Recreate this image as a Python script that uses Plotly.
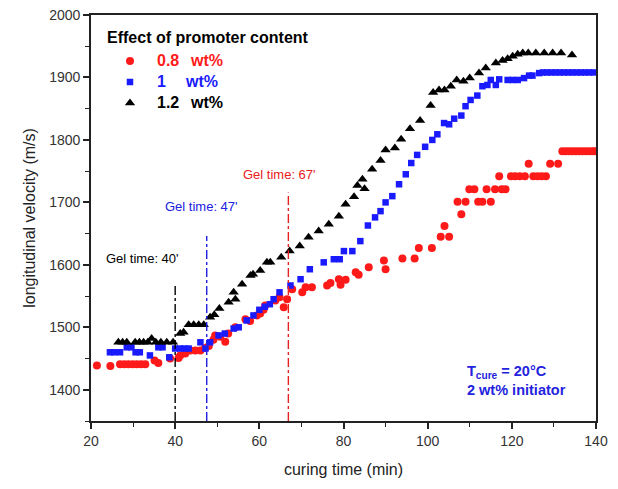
import plotly.graph_objects as go

# ---------------- data ----------------
red_t = [21.4, 24.6, 26.9, 27.9, 28.9, 29.9, 30.9, 31.9, 32.9, 35.1, 36.0, 38.8, 40.8, 41.2, 42.4,
         43.6, 44.8, 46.0, 47.1, 48.0, 49.1, 49.5, 50.7, 51.9, 52.6, 54.3, 56.7, 57.8, 59.4, 60.2,
         61.0, 61.4, 63.8, 64.8, 65.8, 66.6, 67.8, 70.2, 71.0, 72.5, 76.1, 76.9, 78.9, 79.3, 80.5,
         82.9, 83.6, 86.0, 89.6, 90.0, 94.0, 96.9, 97.9, 101.0, 103.1, 104.0, 105.1, 107.1, 108.0,
         109.0, 109.9, 111.1, 112.0, 113.0, 114.0, 115.0, 116.0, 117.0, 117.6, 118.5, 119.8, 120.8,
         121.9, 123.1, 124.0, 125.1, 126.1, 127.1, 128.1, 129.1, 131.0, 132.0, 132.8, 133.6, 134.4,
         135.2, 136.0, 136.8, 137.6, 138.4, 139.2, 139.8]
red_v = [1439, 1438, 1441, 1441, 1441, 1441, 1441, 1441, 1441, 1447, 1443, 1450, 1451, 1455, 1458,
         1463, 1463, 1463, 1467, 1470, 1480, 1487, 1485, 1477, 1490, 1500, 1513, 1510, 1519, 1522,
         1528, 1535, 1543, 1548, 1532, 1545, 1561, 1556, 1564, 1564, 1567, 1571, 1577, 1568, 1576,
         1588, 1584, 1596, 1607, 1593, 1610, 1610, 1627, 1627, 1645, 1662, 1645, 1701, 1681,
         1701, 1721, 1721, 1701, 1701, 1721, 1701, 1721, 1742, 1721, 1721, 1742, 1742,
         1742, 1742, 1762, 1742, 1742, 1742, 1742, 1762, 1762, 1782, 1782, 1782, 1782,
         1782, 1782, 1782, 1782, 1782, 1782, 1782]

blue_t = [24.5, 25.5, 26.9, 28.5, 29.6, 30.6, 31.6, 34.0, 36.0, 37.0, 38.6, 40.0, 41.2, 42.2, 43.2,
          46.0, 47.2, 48.3, 50.3, 51.8, 53.9, 55.1, 57.0, 58.6, 60.0, 61.3, 62.5, 63.4, 64.8, 67.4,
          69.8, 72.0, 75.3, 77.7, 79.1, 80.1, 82.1, 84.0, 85.8, 87.5, 88.8, 90.0, 91.6, 93.2, 94.8,
          96.1, 97.5, 99.4, 101.1, 102.3, 103.9, 105.1, 106.3, 108.0, 109.0, 110.2, 111.8, 113.0,
          114.2, 115.0, 116.2, 117.0, 119.0, 120.2, 121.4, 122.9, 124.1, 124.9, 126.5, 127.4, 128.4,
          129.4, 130.4, 131.4, 132.4, 133.4, 134.4, 135.4, 136.4, 137.4, 138.4, 139.4]
blue_v = [1460, 1460, 1460, 1468, 1468, 1460, 1460, 1455, 1468, 1468, 1452, 1466, 1466, 1466, 1466,
          1476, 1466, 1476, 1487, 1490, 1498, 1500, 1511, 1519, 1528, 1533, 1537, 1545, 1556, 1567,
          1577, 1593, 1604, 1609, 1609, 1622, 1622, 1638, 1663, 1676, 1686, 1700, 1710, 1729, 1745,
          1763, 1776, 1789, 1800, 1809, 1827, 1825, 1834, 1839, 1854, 1864, 1871, 1886,
          1888, 1896, 1888, 1897, 1896, 1896, 1896, 1899, 1903, 1903, 1907, 1908, 1908,
          1908, 1908, 1908, 1908, 1908, 1908, 1908, 1908, 1908, 1908, 1908]

black_t = [26.5, 27.5, 28.5, 30.5, 31.5, 32.5, 33.5, 34.4, 35.4, 36.6, 38.0, 39.5, 41.2, 42.0, 43.2,
           44.4, 45.6, 46.8, 48.3, 49.3, 50.5, 52.7, 53.9, 54.3, 55.9, 57.9, 58.5, 60.2, 61.8, 62.6,
           65.2, 67.2, 69.6, 71.7, 74.1, 76.5, 78.9, 80.5, 82.5, 83.3, 84.5, 85.0, 86.8, 88.8, 90.0,
           92.2, 93.7, 95.8, 98.2, 100.7, 101.3, 102.7, 104.0, 105.5, 106.9, 108.5, 110.0, 112.2,
           113.8, 116.2, 117.8, 119.0, 120.2, 121.4, 122.6, 123.9, 125.7, 127.7, 129.7, 131.7, 134.3]
black_v = [1476, 1476, 1476, 1476, 1476, 1476, 1476, 1482, 1476, 1476, 1476, 1476, 1490, 1492, 1504,
           1504, 1504, 1504, 1516, 1520, 1530, 1540, 1556, 1545, 1569, 1583, 1585, 1591, 1604, 1604,
           1612, 1622, 1630, 1644, 1654, 1665, 1678, 1697, 1709, 1727, 1737, 1722, 1753, 1767, 1784,
           1787, 1801, 1818, 1831, 1855, 1876, 1880, 1880, 1886, 1896, 1894, 1899, 1907,
           1915, 1923, 1927, 1930, 1934, 1937, 1939, 1939, 1939, 1939, 1939, 1939, 1936]

series_labels = ["0.8", "1", "1.2"]
series_unit = "wt%"
series_colors = ["#ff1a1a", "#1a1aff", "#000000"]
series_symbols = ["circle", "square", "triangle-up"]
series_sizes = [8, 6.5, 9]
legend_title = "Effect of promoter content"

gel_t = [40.0, 47.5, 66.9]
gel_top = [1569, 1646, 1716]
gel_labels = ["Gel time: 40'", "Gel time: 47'", "Gel time: 67'"]
gel_label_t = [32.3, 46.3, 64.8]
gel_label_v = [1610, 1694, 1745]
gel_colors = ["#000000", "#2020e0", "#e82020"]
y_min = 1350

x_ticks = [20, 40, 60, 80, 100, 120, 140]
y_ticks = [1400, 1500, 1600, 1700, 1800, 1900, 2000]

FONT = "Liberation Sans, Arial, sans-serif"

# page body has an 8px margin: compensate so the plot area sits where the reference has it
W, H = 602, 473
ML, MR, MT, MB = 83, 14, 7, 60
PW, PH = W - ML - MR, H - MT - MB


def px_to_paper(px, py):
    """page pixel (reference image coords) -> paper coords"""
    fx = px - 8 - ML
    fy = py - 8 - MT
    return fx / PW, 1 - fy / PH


fig = go.Figure()

series = [(red_t, red_v), (blue_t, blue_v), (black_t, black_v)]
for i, (t, v) in enumerate(series):
    fig.add_trace(go.Scatter(
        x=t, y=v, mode="markers", name=series_labels[i] + " " + series_unit,
        showlegend=False,
        marker=dict(symbol=series_symbols[i], size=series_sizes[i], color=series_colors[i],
                    line=dict(width=0))))

for i in range(3):
    fig.add_trace(go.Scatter(
        x=[gel_t[i], gel_t[i]], y=[y_min, gel_top[i]], mode="lines",
        line=dict(color=gel_colors[i], width=1.4, dash="dashdot"),
        showlegend=False, hoverinfo="skip"))
    fig.add_annotation(x=gel_label_t[i], y=gel_label_v[i], text=gel_labels[i],
                       showarrow=False, font=dict(family=FONT, size=13, color=gel_colors[i]))

# ---- hand-drawn legend block (title, markers, labels) ----
tx, ty = px_to_paper(105, 37)
fig.add_annotation(xref="paper", yref="paper", x=tx, y=ty, xanchor="left", yanchor="middle",
                   text="<b>" + legend_title + "</b>", showarrow=False,
                   font=dict(family=FONT, size=16, color="#000"))
row_y = [61, 82, 103]
unit_x = [188, 183, 188]
for i in range(3):
    mx, my = px_to_paper(130, row_y[i])
    fig.add_trace(go.Scatter(
        x=[mx], y=[my], xaxis="x2", yaxis="y2", mode="markers", showlegend=False,
        hoverinfo="skip",
        marker=dict(symbol=series_symbols[i], size=series_sizes[i],
                    color=series_colors[i], line=dict(width=0))))
    lx, ly = px_to_paper(155, row_y[i])
    fig.add_annotation(xref="paper", yref="paper", x=lx, y=ly, xanchor="left", yanchor="middle",
                       text="<b>" + series_labels[i] + "</b>", showarrow=False,
                       font=dict(family=FONT, size=16, color=series_colors[i]))
    ux, uy = px_to_paper(unit_x[i], row_y[i])
    fig.add_annotation(xref="paper", yref="paper", x=ux, y=uy, xanchor="left", yanchor="middle",
                       text="<b>" + series_unit + "</b>", showarrow=False,
                       font=dict(family=FONT, size=16, color=series_colors[i]))

nx, ny = px_to_paper(465, 380)
fig.add_annotation(xref="paper", yref="paper", x=nx, y=ny, xanchor="left", yanchor="middle",
                   align="left",
                   text="<b>T<sub>cure</sub> = 20°C<br>2 wt% initiator</b>",
                   showarrow=False, font=dict(family=FONT, size=14.5, color="#2323dd"))

axis_common = dict(showline=True, linecolor="#222", linewidth=1.6, mirror=True,
                   ticks="outside", ticklen=6, tickwidth=1.5, tickcolor="#222",
                   showgrid=False, zeroline=False, ticklabeloverflow="allow",
                   tickfont=dict(family=FONT, size=14, color="#333"))

xaxis = dict(range=[20, 140], tickvals=x_ticks,
             minor=dict(dtick=10, tick0=20, ticks="outside", ticklen=4, tickcolor="#222", tickwidth=1.2),
             title=dict(text="curing time (min)", font=dict(family=FONT, size=16, color="#222"),
                        standoff=16),
             **axis_common)
yaxis = dict(range=[1350, 2000], tickvals=y_ticks,
             minor=dict(dtick=50, tick0=1350, ticks="outside", ticklen=4, tickcolor="#222", tickwidth=1.2),
             title=dict(text="longitudinal velocity (m/s)", font=dict(family=FONT, size=16, color="#222"),
                        standoff=10),
             **axis_common)

fig.update_layout(
    width=W, height=H,
    margin=dict(l=ML, r=MR, t=MT, b=MB, autoexpand=False),
    paper_bgcolor="white", plot_bgcolor="white",
    font=dict(family=FONT, size=14, color="#222"),
    showlegend=False,
    xaxis=xaxis, yaxis=yaxis,
    xaxis2=dict(range=[0, 1], overlaying="x", visible=False, anchor="y2"),
    yaxis2=dict(range=[0, 1], overlaying="y", visible=False, anchor="x2"),
)

fig.write_html("out.html")
